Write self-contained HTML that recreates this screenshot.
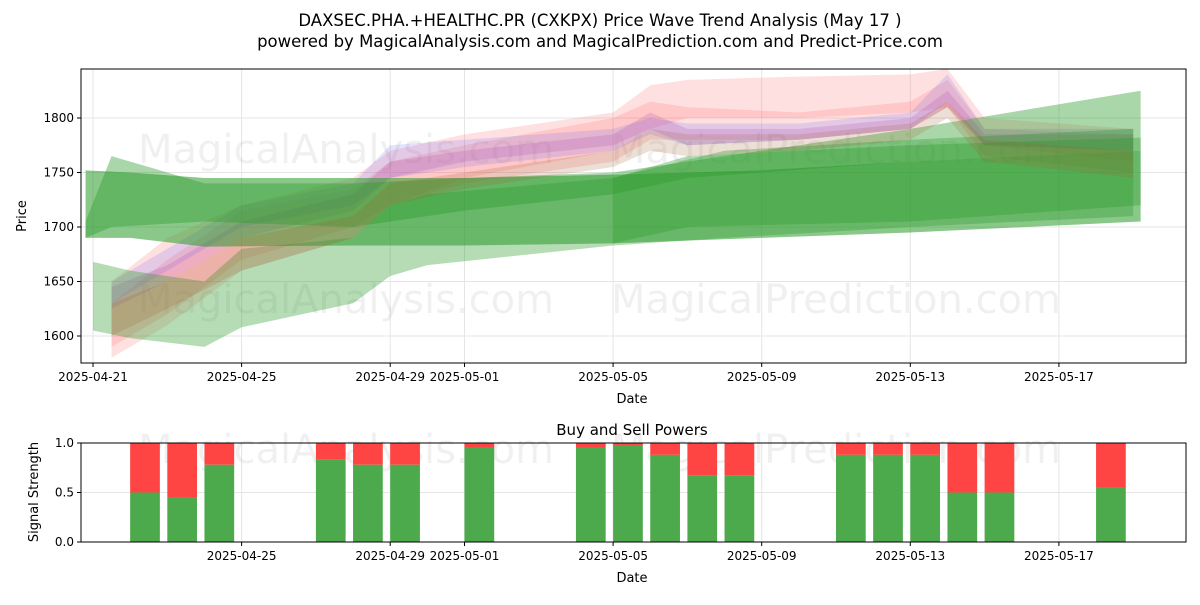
<!DOCTYPE html>
<html><head><meta charset="utf-8"><style>
body{margin:0;background:#fff;font-family:"Liberation Sans","DejaVu Sans",sans-serif;}
svg text{font-family:"DejaVu Sans","Liberation Sans",sans-serif;}
</style></head><body>
<svg id="chart" width="1200" height="600" xmlns="http://www.w3.org/2000/svg">
<text x="600" y="26" text-anchor="middle" font-size="16.5">DAXSEC.PHA.+HEALTHC.PR (CXKPX) Price Wave Trend Analysis (May 17 )</text>
<text x="600" y="47" text-anchor="middle" font-size="16.5">powered by MagicalAnalysis.com and MagicalPrediction.com and Predict-Price.com</text>
<g id="topPanel"></g>
<g id="botPanel"></g>
</svg>
<script>
// day offsets from 2025-04-21
const tickDays=[0,4,8,10,14,18,22,26];
const tickLabels=["2025-04-21","2025-04-25","2025-04-29","2025-05-01","2025-05-05","2025-05-09","2025-05-13","2025-05-17"];
const botTickDays=[4,8,10,14,18,22,26];
const botTickLabels=["2025-04-25","2025-04-29","2025-05-01","2025-05-05","2025-05-09","2025-05-13","2025-05-17"];
const yTicks=[1600,1650,1700,1750,1800];
const greenDays1=[-0.2,1,3,7,10,14,18,22,28.2];
const greenUpper1=[1752,1750,1745,1745,1745,1748,1752,1760,1770];
const greenLower1=[1690,1690,1682,1683,1683,1685,1690,1695,1705];
const greenDays2=[0,1,3,4,7,8,9,14,17,22,28];
const greenUpper2=[1668,1660,1650,1680,1690,1720,1730,1745,1770,1780,1790];
const greenLower2=[1605,1598,1590,1608,1630,1655,1665,1683,1690,1700,1710];
const greenDays3=[-0.2,0.5,3,7,10,14,16,22,28.2];
const greenUpper3=[1705,1765,1740,1740,1745,1750,1760,1790,1825];
const greenLower3=[1690,1700,1705,1700,1715,1730,1745,1760,1770];
const greenDays4=[14,16,22,28.2];
const greenUpper4=[1745,1765,1775,1782];
const greenLower4=[1685,1700,1705,1720];
const waveDays=[0.5,2,4,7,8,10,14,15,16,19,22,23,24,28];
const red1Up=[1650,1690,1720,1745,1770,1785,1805,1830,1835,1838,1840,1845,1800,1790];
const red1Lo=[1590,1620,1670,1700,1720,1745,1770,1790,1800,1800,1805,1810,1775,1760];
const red2Up=[1630,1670,1715,1735,1760,1775,1800,1815,1810,1805,1815,1835,1790,1785];
const red2Lo=[1580,1610,1660,1690,1720,1740,1760,1780,1780,1780,1790,1810,1765,1750];
const blueUp=[1650,1680,1720,1740,1775,1780,1790,1800,1795,1795,1805,1840,1790,1790];
const blueLo=[1630,1660,1700,1720,1745,1755,1770,1785,1775,1780,1790,1815,1775,1770];
const purpUp=[1645,1665,1705,1730,1760,1770,1785,1805,1790,1790,1800,1825,1785,1785];
const purpLo=[1625,1650,1690,1715,1745,1760,1775,1790,1775,1780,1790,1810,1775,1770];
const brownUp=[1630,1650,1690,1710,1740,1750,1770,1790,1785,1785,1795,1815,1780,1770];
const brownLo=[1600,1625,1660,1690,1720,1735,1755,1770,1765,1770,1780,1800,1760,1745];
const barDays=[1,2,3,6,7,8,10,13,14,15,16,17,20,21,22,23,24,27];
const buyVals=[0.5,0.45,0.78,0.83,0.78,0.78,0.95,0.95,0.98,0.88,0.67,0.67,0.88,0.88,0.88,0.5,0.5,0.55];

const NS="http://www.w3.org/2000/svg";
const X0=81,X1=1186,T0=69,T1=363,B0=443,B1=542;
const xs=d=>93+d*37.15;
const ys=v=>336-(v-1600)*1.09;
const yb=v=>542-v*99;
function mk(p,tag,at){const e=document.createElementNS(NS,tag);for(const k in at)e.setAttribute(k,at[k]);p.appendChild(e);return e;}
const topG=document.getElementById('topPanel'),botG=document.getElementById('botPanel');

yTicks.forEach((v,i)=>{const l=mk(topG,'line',{x1:X0,x2:X1,y1:ys(v),y2:ys(v),stroke:'#e5e5e5'});


mk(topG,'line',{x1:X0-4,x2:X0,y1:ys(v),y2:ys(v),stroke:'#000'});
const t=mk(topG,'text',{x:X0-7,y:ys(v)+4,'text-anchor':'end','font-size':12});t.textContent=v;

});
tickDays.forEach((d,i)=>{mk(topG,'line',{x1:xs(d),x2:xs(d),y1:T0,y2:T1,stroke:'#e5e5e5'});
mk(topG,'line',{x1:xs(d),x2:xs(d),y1:T1,y2:T1+4,stroke:'#000'});
const t=mk(topG,'text',{x:xs(d),y:T1+18,'text-anchor':'middle','font-size':12});t.textContent=tickLabels[i];

});
function wm(p,y){[[346,'MagicalAnalysis.com'],[836,'MagicalPrediction.com']].forEach(([x,s])=>{const t=mk(p,'text',{x:x,y:y,'text-anchor':'middle','font-size':40,fill:'#000','fill-opacity':0.06});t.textContent=s;

});}
wm(topG,163);wm(topG,313);
function band(days,up,lo,fill,op,name){let pts=days.map((d,i)=>xs(d)+','+ys(up[i]));
for(let i=days.length-1;i>=0;i--)pts.push(xs(days[i])+','+ys(lo[i]));
const p=mk(topG,'polygon',{points:pts.join(' '),fill:fill,'fill-opacity':op});

}
band(waveDays,red1Up,red1Lo,'#ff6666',0.2,'wave-band-red');
band(waveDays,red2Up,red2Lo,'#ff6666',0.2,'wave-band-red');
band(waveDays,blueUp,blueLo,'#6666ff',0.18,'wave-band-blue');
band(waveDays,purpUp,purpLo,'#aa44aa',0.2,'wave-band-purple');
band(greenDays1,greenUpper1,greenLower1,'#2a9a2a',0.55,'wave-band-green');
band(greenDays2,greenUpper2,greenLower2,'#2a9a2a',0.35,'wave-band-green');
band(greenDays3,greenUpper3,greenLower3,'#2a9a2a',0.4,'wave-band-green');
band(greenDays4,greenUpper4,greenLower4,'#2a9a2a',0.35,'wave-band-green');
band(waveDays,brownUp,brownLo,'#a06030',0.2,'wave-band-brown');
mk(topG,'rect',{x:X0,y:T0,width:X1-X0,height:T1-T0,fill:'none',stroke:'#000'});
let t=mk(topG,'text',{x:632,y:403,'text-anchor':'middle','font-size':13});t.textContent='Date';


t=mk(topG,'text',{x:26,y:216,'text-anchor':'middle','font-size':13,transform:'rotate(-90 26 216)'});t.textContent='Price';



[0,0.5,1].forEach(v=>{mk(botG,'line',{x1:X0,x2:X1,y1:yb(v),y2:yb(v),stroke:'#e5e5e5'});
mk(botG,'line',{x1:X0-4,x2:X0,y1:yb(v),y2:yb(v),stroke:'#000'});
const t=mk(botG,'text',{x:X0-7,y:yb(v)+4,'text-anchor':'end','font-size':12});t.textContent=v.toFixed(1);

});
botTickDays.forEach((d,i)=>{mk(botG,'line',{x1:xs(d),x2:xs(d),y1:B0,y2:B1,stroke:'#e5e5e5'});
mk(botG,'line',{x1:xs(d),x2:xs(d),y1:B1,y2:B1+4,stroke:'#000'});
const t=mk(botG,'text',{x:xs(d),y:B1+18,'text-anchor':'middle','font-size':12});t.textContent=botTickLabels[i];

});
wm(botG,463);
barDays.forEach((d,i)=>{const x=xs(d),w=0.8*37.15,b=buyVals[i];
const s=mk(botG,'rect',{x:x,y:yb(1),width:w,height:yb(b)-yb(1),fill:'#ff4444'});


const g=mk(botG,'rect',{x:x,y:yb(b),width:w,height:yb(0)-yb(b),fill:'#4caa4c'});

});
mk(botG,'rect',{x:X0,y:B0,width:X1-X0,height:B1-B0,fill:'none',stroke:'#000'});
t=mk(botG,'text',{x:632,y:435,'text-anchor':'middle','font-size':15});t.textContent='Buy and Sell Powers';


t=mk(botG,'text',{x:632,y:582,'text-anchor':'middle','font-size':13});t.textContent='Date';


t=mk(botG,'text',{x:38,y:492,'text-anchor':'middle','font-size':13,transform:'rotate(-90 38 492)'});t.textContent='Signal Strength';


</script>
</body></html>
